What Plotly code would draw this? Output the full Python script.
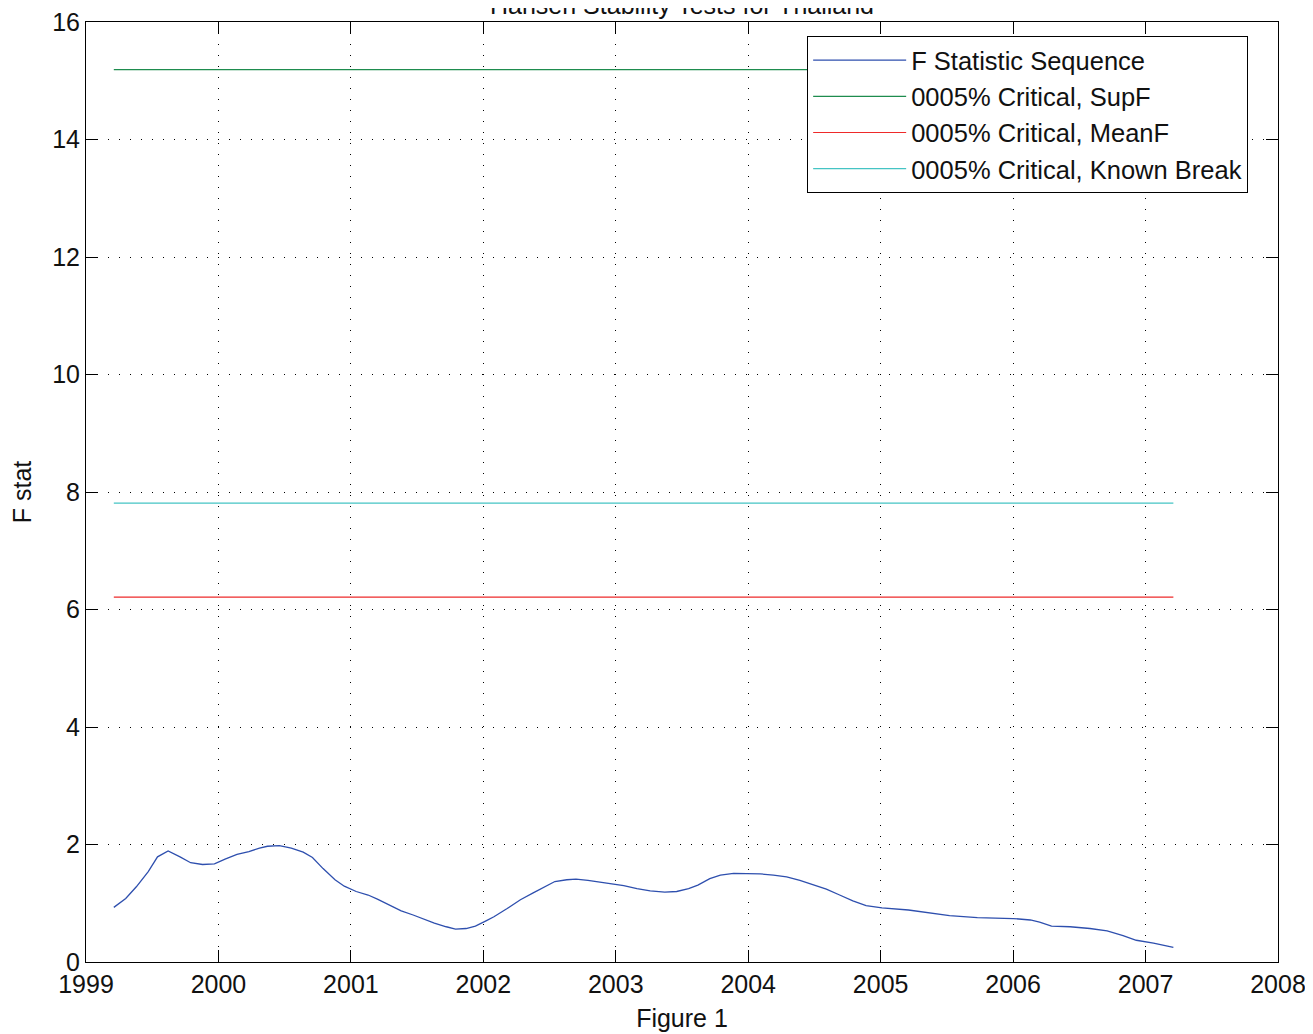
import plotly.graph_objects as go

# F statistic sequence (decimal year, value)
f_year = [1999.21, 1999.30, 1999.38, 1999.47, 1999.54, 1999.62, 1999.71, 1999.79, 1999.88, 1999.97,
          2000.05, 2000.14, 2000.23, 2000.31, 2000.37, 2000.46, 2000.55, 2000.64, 2000.71, 2000.79,
          2000.88, 2000.95, 2001.04, 2001.13, 2001.20, 2001.29, 2001.38, 2001.47, 2001.55, 2001.63,
          2001.72, 2001.79, 2001.87, 2001.94, 2002.02, 2002.08, 2002.18, 2002.28, 2002.38, 2002.47,
          2002.54, 2002.63, 2002.70, 2002.79, 2002.88, 2002.98, 2003.06, 2003.16, 2003.26, 2003.37,
          2003.46, 2003.55, 2003.62, 2003.71, 2003.79, 2003.89, 2003.99, 2004.09, 2004.19, 2004.29,
          2004.39, 2004.49, 2004.59, 2004.69, 2004.79, 2004.89, 2005.01, 2005.21, 2005.32, 2005.52,
          2005.73, 2006.00, 2006.13, 2006.20, 2006.29, 2006.43, 2006.58, 2006.71, 2006.83, 2006.93,
          2007.06, 2007.21]
f_stat = [0.93, 1.08, 1.28, 1.54, 1.79, 1.89, 1.79, 1.69, 1.66, 1.67,
          1.75, 1.83, 1.88, 1.94, 1.97, 1.98, 1.94, 1.87, 1.78, 1.59,
          1.40, 1.29, 1.20, 1.14, 1.07, 0.97, 0.87, 0.80, 0.73, 0.66,
          0.60, 0.56, 0.57, 0.61, 0.70, 0.77, 0.91, 1.06, 1.18, 1.28,
          1.37, 1.40, 1.41, 1.39, 1.36, 1.33, 1.30, 1.25, 1.21, 1.19,
          1.20, 1.25, 1.31, 1.42, 1.48, 1.51, 1.51, 1.50, 1.48, 1.45,
          1.39, 1.32, 1.24, 1.14, 1.04, 0.96, 0.92, 0.885, 0.85, 0.79,
          0.755, 0.74, 0.715, 0.68, 0.61, 0.60, 0.57, 0.53, 0.45, 0.37,
          0.32, 0.25]

# Critical values (constant lines over the sample)
crit_names = ["0005% Critical, SupF", "0005% Critical, MeanF", "0005% Critical, Known Break"]
crit_values = [15.19, 6.21, 7.81]
crit_colors = ["#1e8c4e", "#ee2a2a", "#45c4c4"]

x_ticks = [1999, 2000, 2001, 2002, 2003, 2004, 2005, 2006, 2007, 2008]
y_ticks = [0, 2, 4, 6, 8, 10, 12, 14, 16]

FONT = "Liberation Sans, Arial, Helvetica, sans-serif"

fig = go.Figure()
fig.add_trace(go.Scatter(x=f_year, y=f_stat, mode="lines", name="F Statistic Sequence",
                         line=dict(color="#2e4fae", width=1.3)))
span = [f_year[0], f_year[-1]]
for nm, v, c in zip(crit_names, crit_values, crit_colors):
    fig.add_trace(go.Scatter(x=span, y=[v, v], mode="lines", name=nm,
                             line=dict(color=c, width=1.2)))

axis_common = dict(
    showline=True, linecolor="black", linewidth=1, mirror="ticks",
    ticks="inside", ticklen=12, tickcolor="black", tickwidth=1,
    showgrid=True, gridcolor="black", gridwidth=1, griddash="1px,10px",
    zeroline=False, tickfont=dict(family=FONT, size=25, color="#111"),
    automargin=False, ticklabeloverflow="allow",
)

fig.update_layout(
    width=1313, height=1034,
    margin=dict(l=78, r=43, t=14, b=80),
    paper_bgcolor="white", plot_bgcolor="white",
    font=dict(family=FONT, color="#111"),
    xaxis=dict(range=[1999, 2008], tickvals=x_ticks, ticktext=[str(t) for t in x_ticks],
               title=dict(text="Figure 1", font=dict(family=FONT, size=25), standoff=12),
               **axis_common),
    yaxis=dict(range=[0, 16], tickvals=y_ticks,
               title=dict(text="F stat", font=dict(family=FONT, size=25), standoff=14),
               **axis_common),
    legend=dict(x=0.605, y=0.985, xanchor="left", yanchor="top",
                bordercolor="black", borderwidth=1, bgcolor="white",
                font=dict(family=FONT, size=25.5, color="#111"),
                itemwidth=93, tracegroupgap=0),
    showlegend=True,
)
fig.add_annotation(text="Hansen Stability Tests for Thailand", xref="paper", yref="paper",
                   x=0.5, y=1.001, xanchor="center", yanchor="bottom", showarrow=False,
                   font=dict(family=FONT, size=25, color="#111"))

fig.write_html("out.html")
